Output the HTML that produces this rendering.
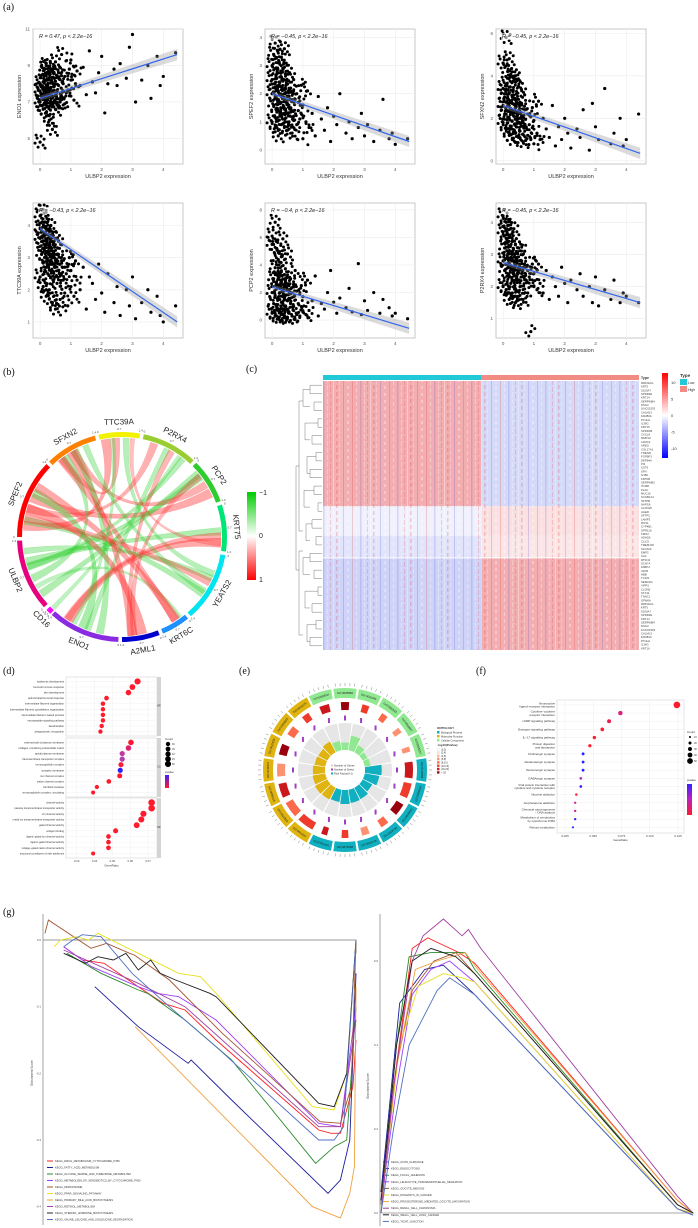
<!DOCTYPE html>
<html><head><meta charset="utf-8">
<style>
html,body{margin:0;padding:0;background:#fff;}
svg{display:block;font-family:"Liberation Sans",sans-serif;}
.pl{font-family:"Liberation Serif",serif;font-size:10px;fill:#111;}
</style></head>
<body>
<svg id="fig" width="698" height="1228" viewBox="0 0 698 1228" xmlns="http://www.w3.org/2000/svg">
<defs>
<pattern id="streak" width="37" height="7" patternUnits="userSpaceOnUse">
<rect x="0" y="0" width="1" height="7" fill="#fff" opacity="0.35"/>
<rect x="3" y="0" width="1.5" height="4" fill="#d22" opacity="0.2"/>
<rect x="6" y="2" width="1" height="5" fill="#fff" opacity="0.25"/>
<rect x="10" y="0" width="1" height="7" fill="#33c" opacity="0.18"/>
<rect x="14" y="1" width="2" height="3" fill="#fff" opacity="0.3"/>
<rect x="19" y="0" width="1" height="7" fill="#d22" opacity="0.2"/>
<rect x="23" y="3" width="1" height="4" fill="#fff" opacity="0.35"/>
<rect x="27" y="0" width="1.5" height="7" fill="#33c" opacity="0.15"/>
<rect x="31" y="0" width="1" height="5" fill="#fff" opacity="0.3"/>
<rect x="34" y="2" width="1" height="5" fill="#d22" opacity="0.18"/>
</pattern>
</defs>
<text class="pl" x="3" y="10">(a)</text>
<text class="pl" x="3" y="375">(b)</text>
<text class="pl" x="246" y="372">(c)</text>
<text class="pl" x="3" y="674">(d)</text>
<text class="pl" x="239" y="674">(e)</text>
<text class="pl" x="476" y="674">(f)</text>
<text class="pl" x="3" y="915">(g)</text>
<g id="gA"></g><g id="gB"></g><g id="gC"></g><g id="gD"></g><g id="gE"></g><g id="gF"></g><g id="gG"></g>
</svg>
<script>
// ================= DATA =================
const scGenes = ['ENO1','SPEF2','SFXN2','TTC39A','PCP2','P2RX4'];
const scR = ['R = 0.47, p < 2.2e\u221216','R = \u22120.45, p < 2.2e\u221216','R = \u22120.45, p < 2.2e\u221216','R = \u22120.43, p < 2.2e\u221216','R = \u22120.4, p < 2.2e\u221216','R = \u22120.45, p < 2.2e\u221216'];
const scYMin = [3.6, -0.5, -0.15, 0.5, -1.3, 0.4];
const scYMax = [11.0, 4.3, 6.2, 4.7, 8.5, 4.6];
const scYTicks = [[5,7,9,11],[0,1,2,3,4],[0,2,4,6],[1,2,3,4],[0,2,4,6,8],[1,2,3,4]];
const scXTicks = [0,1,2,3,4];
const scFitStart = [7.2, 2.0, 2.6, 3.9, 2.4, 2.75];
const scFitEnd = [9.6, 0.3, 0.35, 1.0, -0.6, 1.5];
const scX = [0,0,0,0,0.05,0.05,0.1,0.1,0.1,0.15,0.15,0.2,0.2,0.2,0.2,0.25,0.25,0.3,0.3,0.3,0.3,0.35,0.35,0.4,0.4,0.4,0.45,0.45,0.5,0.5,0.5,0.55,0.55,0.6,0.6,0.65,0.7,0.7,0.75,0.8,0.8,0.85,0.9,0.95,1.0,1.0,1.1,1.15,1.2,1.3,1.4,1.5,1.6,1.7,1.8,1.9,2.0,2.1,2.2,2.4,2.5,2.6,2.8,2.9,3.0,3.1,3.3,3.5,3.6,3.8,3.9,4.0,4.4];
const scY1 = [7.0,7.6,4.8,8.0,6.8,7.4,8.1,6.6,7.7,8.8,7.1,7.5,8.5,6.4,9.0,7.2,7.9,8.9,6.0,7.4,8.2,7.8,6.9,8.3,5.5,7.3,8.6,7.0,7.0,9.2,6.6,7.6,8.4,7.9,8.6,7.0,7.3,9.6,8.0,6.9,8.4,7.5,7.6,8.8,9.3,8.2,7.1,8.0,8.7,7.9,8.9,7.4,9.8,8.1,7.5,8.6,9.5,6.4,8.0,8.8,7.9,9.1,8.3,10.0,10.7,7.0,8.2,9.0,7.2,9.5,7.9,8.4,9.7];
const scY2 = [2.0,3.0,1.0,2.5,1.6,3.4,2.2,0.8,3.8,1.4,2.7,2.1,3.1,0.5,1.8,2.4,1.2,3.3,1.9,0.9,2.6,1.5,2.9,2.0,1.1,3.6,1.7,2.3,0.7,1.3,2.8,1.9,1.0,2.2,1.5,0.6,2.5,1.2,1.8,0.9,2.0,1.4,1.1,2.3,0.4,1.6,1.0,2.1,0.8,1.3,0.5,1.9,1.1,0.7,1.5,0.3,1.2,0.9,2.0,0.6,1.0,0.4,0.8,1.3,0.5,0.9,0.3,0.7,1.8,0.4,0.6,0.2,0.4];
const scY3 = [2.6,3.4,1.8,4.6,2.2,3.0,5.8,1.5,3.6,2.6,4.2,2.0,3.2,1.2,4.8,2.8,1.6,3.7,2.4,1.0,3.0,2.1,3.9,2.5,1.3,4.0,1.9,2.9,1.1,2.3,3.5,2.0,1.4,2.7,1.8,0.9,2.4,3.1,1.6,1.2,2.2,1.7,1.0,2.5,0.8,1.9,1.3,2.8,1.0,2.0,1.5,1.1,2.6,0.7,1.6,1.0,2.0,1.3,0.6,1.5,1.1,2.4,0.5,2.7,1.6,1.0,3.4,0.8,1.3,2.0,0.7,1.0,2.2];
const scY4 = [3.6,4.3,2.4,3.9,3.1,3.5,4.5,2.1,3.8,3.0,4.1,2.7,3.4,1.8,3.9,3.2,2.5,3.7,2.9,2.0,3.3,2.6,4.0,3.0,1.6,3.5,2.8,3.2,1.4,2.4,3.6,2.9,2.2,3.1,2.6,1.7,2.9,3.4,2.3,1.9,2.7,2.5,1.5,3.0,2.1,2.6,1.8,2.9,2.3,2.0,2.7,1.4,2.4,2.2,1.7,2.8,1.9,1.3,2.5,1.6,2.1,1.2,2.0,1.5,2.4,1.1,1.6,2.0,1.3,1.8,1.2,1.0,1.5];
const scY5 = [2.0,5.5,0.5,6.1,3.0,1.2,7.1,0.3,3.8,2.5,5.2,1.5,4.4,0.2,3.0,2.0,0.6,4.6,2.8,0.4,3.5,1.2,5.9,2.4,0.3,3.3,1.8,2.7,0.2,4.8,1.4,2.2,0.5,3.0,1.9,0.3,2.6,1.0,3.6,0.4,2.1,1.2,0.3,2.5,0.6,1.7,0.4,2.9,0.7,1.4,3.2,0.3,1.2,0.8,2.0,3.6,1.3,0.5,1.6,0.9,2.3,0.6,4.1,0.4,1.4,0.7,2.0,0.5,1.5,0.9,0.3,0.5,0.1];
const scY6 = [2.8,3.7,2.0,4.2,2.5,3.2,4.0,1.9,3.5,2.7,3.9,2.3,3.1,1.6,3.6,2.9,2.1,3.4,2.6,1.8,3.0,2.4,3.8,2.7,1.5,3.3,2.2,2.9,1.7,2.5,3.2,2.6,2.0,2.8,2.3,1.6,2.6,3.1,2.2,1.8,2.5,2.3,0.6,2.7,2.0,2.4,1.9,2.7,2.1,1.8,2.5,1.6,2.3,2.0,1.7,2.6,2.1,1.5,2.2,1.9,2.4,1.7,2.0,1.5,2.3,1.4,1.9,1.6,2.2,1.5,1.8,1.7,1.5];
const scYs = [scY1,scY2,scY3,scY4,scY5,scY6];

const chordNames = ['TTC39A','P2RX4','PCP2','KRT75','YEATS2','KRT6C','A2ML1','ENO1','CD16','ULBP2','SPEF2','SFXN2'];
const chordStart = [-13,12,45,72,100,141,159,182,223,228,270,316];
const chordEnd = [10,43,70,98,139,157,180,222,226,268,314,345];
const chordColors = ['#f2f200','#9acd32','#2ecc2e','#00e676','#00e5ee','#1e90ff','#0000cd','#8a2be2','#ff00ff','#e6007e','#ff0000','#ff8000'];
const linkFrom = [0,0,0,1,1,2,2,3,3,4,4,5,6,6,7,7,7,8,9,9,9,10,10,11,11,0,1,3,5,6];
const linkTo   = [10,11,4,10,7,10,9,9,7,9,10,9,10,11,11,10,3,1,1,2,11,5,4,2,4,7,6,0,11,2];
const linkCorr = [0.6,0.5,-0.4,0.5,-0.4,0.6,-0.5,-0.5,0.6,-0.4,-0.5,-0.3,0.7,0.6,-0.5,-0.6,0.5,-0.3,-0.4,-0.5,-0.5,0.6,0.5,0.5,-0.4,-0.3,0.4,0.3,0.5,0.4];

const hmGroupRows = [34, 8, 6, 25];
const hmLowMean = [2.6, -0.8, -1.6, -2.6];
const hmHighMean = [-2.2, 1.0, 0.8, 2.6];
const hmLegendTicks = [10,5,0,-5,-10];
const hmGenes = ['MIR31HG','KRT5','S100A7','SPRR2E','KRT14','SERPINB4','DSG3','LINC01503','CALML3','FAM83A','PTHLH','IL36G','KRT16','SPRR1B','CXCL8','MMP10','LAMC2','AREG','COL17A1','TRIM29','FGFBP1','DEFB4A','PI3','CST6','SFN','GJB2','KRT6B','SERPINB3','ITGB6','PLAU','MUC16','SCGB1A1','SFTPB','NAPSA','CLDN18','AGER','SFTPC','LAMP3','ROS1','CYP4B1','GPR116','FMO2','ADH1B','CLIC5','TMEM100','SLC6A4','EMP2','CA4','RTKN2','SCN7A','FABP4','CD36','HBB','TCF21','SEMA3G','VIPR1','CLDN5','STX11','TNNC1','GPM6A'];

const goTerms = [
['epidermis development','humoral immune response','skin development','antimicrobial humoral response','intermediate filament organization','intermediate filament cytoskeleton organization','intermediate filament\u2212based process','neuropeptide signaling pathway','keratinization','phagocytosis, recognition'],
['external side of plasma membrane','collagen\u2212containing extracellular matrix','apical plasma membrane','transmembrane transporter complex','immunoglobulin complex','synaptic membrane','ion channel complex','cation channel complex','cornified envelope','immunoglobulin complex, circulating'],
['channel activity','passive transmembrane transporter activity','ion channel activity','metal ion transmembrane transporter activity','gated channel activity','antigen binding','ligand\u2212gated ion channel activity','ligand\u2212gated channel activity','voltage\u2212gated cation channel activity','structural constituent of skin epidermis']];
const goRatio = [[0.0641,0.0612,0.0590,0.0467,0.0447,0.0447,0.0447,0.0447,0.0440,0.0433],
[0.0604,0.0590,0.0555,0.0555,0.0548,0.0544,0.0541,0.0480,0.0413,0.0392],
[0.0720,0.0720,0.0674,0.0662,0.0636,0.0518,0.0478,0.0478,0.0478,0.0392]];
const goColor = [['#ff1a2e','#ff1a2e','#ff1a2e','#ff1a2e','#ff1a2e','#ff1a2e','#ff1a2e','#ff1a2e','#ff1a2e','#ff1a2e'],
['#ff1a2e','#e0206e','#c03aa0','#b040b0','#ff1a3a','#2a20ff','#ff1a2e','#ff1a2e','#ff1a2e','#ff1a2e'],
['#ff1a2e','#ff1a2e','#ff1a2e','#ff1a2e','#ff1a2e','#ff1a2e','#ff1a2e','#ff1a2e','#ff1a2e','#ff1a2e']];
const goCount = [[50,46,43,34,32,32,32,32,31,30],[44,43,40,40,39,39,38,34,29,27],[55,55,50,49,47,38,34,34,34,27]];
const goXTicks = [0.03,0.04,0.05,0.06,0.07];

const circCat = ['CC','CC','CC','CC','CC','CC','BP','BP','BP','BP','BP','BP','BP','MF','MF','MF','MF','MF','MF','MF'];
const circIds = ['GO:0030054','GO:0005882','GO:0045095','GO:0062023','GO:0009897','GO:0016324','GO:0043588','GO:0008544','GO:0006959','GO:0019730','GO:0045109','GO:0070268','GO:0031424','GO:0015267','GO:0022803','GO:0005216','GO:0046873','GO:0022836','GO:0003823','GO:0015276'];
const circGenes = [36,30,26,24,21,19,60,55,45,30,28,25,22,62,58,52,48,40,35,28];
const circRich = [0.35,0.28,0.55,0.3,0.2,0.22,0.62,0.55,0.4,0.48,0.5,0.52,0.46,0.5,0.52,0.48,0.45,0.4,0.38,0.45];
const circPval = [6,7,5,4,3,3,6,5,7,4,3,5,6,5,4,6,3,7,4,5];

const keggTerms = ['Neuroactive ligand\u2212receptor interaction','Cytokine\u2212cytokine receptor interaction','cAMP signaling pathway','Estrogen signaling pathway','IL\u221217 signaling pathway','Protein digestion and absorption','Cholinergic synapse','Glutamatergic synapse','Serotonergic synapse','GABAergic synapse','Viral protein interaction with cytokine and cytokine receptor','Nicotine addiction','Amphetamine addiction','Chemical carcinogenesis \u2212 DNA adducts','Metabolism of xenobiotics by cytochrome P450','Retinol metabolism'];
const keggRatio = [0.124,0.074,0.064,0.058,0.051,0.047,0.041,0.041,0.041,0.039,0.039,0.035,0.034,0.034,0.034,0.032];
const keggColor = ['#ff1a2e','#d8207c','#e81a50','#ff1a2e','#ff1a2e','#ff1a2e','#2a20ff','#2a20ff','#2a20ff','#b030c0','#3020ff','#ff1a2e','#d820a0','#d820a0','#2a20ff','#3030ff'];
const keggCount = [60,36,30,27,24,22,18,18,18,16,16,14,13,13,13,11];
const keggXTicks = [0.025,0.050,0.075,0.100,0.125];

const gseaLNames = ['KEGG_DRUG_METABOLISM_CYTOCHROME_P450','KEGG_FATTY_ACID_METABOLISM','KEGG_GLYCINE_SERINE_AND_THREONINE_METABOLISM','KEGG_METABOLISM_OF_XENOBIOTICS_BY_CYTOCHROME_P450','KEGG_PEROXISOME','KEGG_PPAR_SIGNALING_PATHWAY','KEGG_PRIMARY_BILE_ACID_BIOSYNTHESIS','KEGG_RETINOL_METABOLISM','KEGG_STEROID_HORMONE_BIOSYNTHESIS','KEGG_VALINE_LEUCINE_AND_ISOLEUCINE_DEGRADATION'];
const gseaLColors = ['#ff2020','#1c1c9c','#2a8a2a','#a040ff','#a0522d','#e8e020','#f0a040','#a040a0','#202020','#5070c0'];
const gseaLX = [
[0.06,0.12,0.19,0.30,0.38,0.45,0.55,0.88,0.92,0.95,0.99,1],
[0.16,0.30,0.46,0.47,0.60,0.91,0.95,0.98,1],
[0.07,0.18,0.30,0.33,0.45,0.60,0.87,0.93,0.97,1],
[0.06,0.15,0.30,0.36,0.43,0.55,0.88,0.95,1],
[0,0.011,0.148,0.198,0.272,0.287,0.40,0.57,0.885,0.95,0.985,1],
[0.03,0.05,0.10,0.14,0.17,0.30,0.43,0.50,0.55,0.86,0.93,0.97,1],
[0.29,0.86,0.95,0.98,0.995,1],
[0.06,0.30,0.45,0.88,0.95,1],
[0.06,0.13,0.17,0.22,0.26,0.30,0.34,0.37,0.42,0.53,0.55,0.88,0.93,0.97,1],
[0.06,0.09,0.12,0.18,0.28,0.40,0.55,0.88,0.93,0.96,1]];
const gseaLY = [
[-0.01,-0.03,-0.035,-0.07,-0.095,-0.105,-0.15,-0.285,-0.29,-0.29,-0.22,-0.15],
[-0.07,-0.13,-0.185,-0.18,-0.24,-0.38,-0.36,-0.30,-0.05],
[-0.02,-0.05,-0.075,-0.08,-0.12,-0.18,-0.335,-0.31,-0.30,-0.10],
[-0.01,-0.04,-0.07,-0.08,-0.085,-0.12,-0.275,-0.28,-0.10],
[0.01,0.03,-0.0125,-0.005,-0.02,-0.0225,-0.06,-0.14,-0.2725,-0.275,-0.22,0],
[-0.01,0.0,0.005,0.0,0.01,-0.02,-0.05,-0.055,-0.08,-0.25,-0.255,-0.2,0],
[-0.13,-0.40,-0.417,-0.38,-0.34,-0.07],
[-0.015,-0.065,-0.10,-0.28,-0.28,-0.12],
[-0.02,-0.035,-0.025,-0.03,-0.02,-0.045,-0.03,-0.05,-0.06,-0.08,-0.085,-0.245,-0.25,-0.2,0],
[-0.01,0.0,0.008,0.005,-0.05,-0.10,-0.16,-0.30,-0.30,-0.28,0]];
const gseaLTicks = [0.0,-0.1,-0.2,-0.3,-0.4];
const gseaRNames = ['KEGG_AXON_GUIDANCE','KEGG_ENDOCYTOSIS','KEGG_FOCAL_ADHESION','KEGG_LEUKOCYTE_TRANSENDOTHELIAL_MIGRATION','KEGG_OOCYTE_MEIOSIS','KEGG_PATHWAYS_IN_CANCER','KEGG_PROGESTERONE_MEDIATED_OOCYTE_MATURATION','KEGG_RENAL_CELL_CARCINOMA','KEGG_SMALL_CELL_LUNG_CANCER','KEGG_TIGHT_JUNCTION'];
const gseaRColors = ['#ff2020','#1c1c9c','#2a8a2a','#a040ff','#a0522d','#e8e020','#f0a040','#a040a0','#202020','#5070c0'];
const gseaRX = [
[0,0.04,0.1,0.15,0.25,0.3,0.95,1],
[0,0.06,0.14,0.2,0.3,0.95,1],
[0,0.05,0.09,0.16,0.27,0.3,0.95,1],
[0,0.05,0.1,0.16,0.22,0.3,0.95,1],
[0,0.05,0.1,0.17,0.24,0.3,0.95,1],
[0,0.06,0.12,0.2,0.26,0.3,0.95,1],
[0,0.05,0.11,0.18,0.27,0.31,0.95,1],
[0,0.04,0.1,0.135,0.2,0.26,0.28,0.32,0.95,1],
[0,0.05,0.1,0.16,0.24,0.3,0.95,1],
[0,0.04,0.09,0.18,0.22,0.3,0.95,1]];
const gseaRY = [
[0.02,0.3,0.63,0.655,0.62,0.595,0.03,0.0],
[0.05,0.5,0.58,0.59,0.52,0.01,-0.005],
[0.02,0.4,0.61,0.62,0.62,0.58,0.02,0.0],
[0.02,0.3,0.52,0.58,0.6,0.55,0.01,0.0],
[0.03,0.35,0.53,0.6,0.62,0.57,0.02,0.0],
[0.02,0.4,0.54,0.57,0.56,0.55,0.01,0.0],
[0.02,0.35,0.58,0.6,0.62,0.58,0.03,0.0],
[0.0,0.3,0.6,0.66,0.7,0.66,0.675,0.63,0.04,0.0],
[0.03,0.4,0.6,0.63,0.61,0.57,0.02,0.0],
[0.0,0.2,0.4,0.53,0.56,0.52,0.01,-0.005]];
const gseaRTicks = [0.0,0.2,0.4,0.6];

// ================= HELPERS =================
const NS='http://www.w3.org/2000/svg';
function mk(parent, tag, attrs, text){
  const e=document.createElementNS(NS,tag);
  for(const k in attrs) e.setAttribute(k,attrs[k]);
  if(text!==undefined) e.textContent=text;
  parent.appendChild(e); return e;
}
function rad(d){return (d-90)*Math.PI/180;}

// ================= (a) SCATTER =================
(function(){
  const g=document.getElementById('gA');
  const lefts=[33,265,496,33,265,496], tops=[29,29,29,203,203,203], W=150, H=135;
  const xMin=-0.23, xMax=4.64;
  // visual density halo offsets (pixels) for the crowded low-ULBP2 region
  const halo=[[-3,-4],[3,3],[-2,5],[4,-3],[-5,1],[1,-6],[5,6],[-4,-7]];
  for(let p=0;p<6;p++){
    const L=lefts[p], T=tops[p];
    const sx=v=>L+(v-xMin)/(xMax-xMin)*W;
    const sy=v=>T+H-(v-scYMin[p])/(scYMax[p]-scYMin[p])*H;
    const pg=mk(g,'g',{});
    
    
    mk(pg,'rect',{x:L,y:T,width:W,height:H,fill:'#fff',stroke:'#bbb','stroke-width':0.8});
    scXTicks.forEach(t=>{
      const gl=mk(pg,'line',{x1:sx(t),x2:sx(t),y1:T,y2:T+H,stroke:'#ececec','stroke-width':0.6});
      
      const tl=mk(pg,'text',{x:sx(t),y:T+H+7,'font-size':4.5,'text-anchor':'middle',fill:'#555'},String(t));
      
    });
    scYTicks[p].forEach(t=>{
      const gl=mk(pg,'line',{x1:L,x2:L+W,y1:sy(t),y2:sy(t),stroke:'#ececec','stroke-width':0.6});
      
      const tl=mk(pg,'text',{x:L-3,y:sy(t)+1.5,'font-size':4.5,'text-anchor':'end',fill:'#555'},String(t));
      
    });
    const xt=mk(pg,'text',{x:L+W/2,y:T+H+14,'font-size':5.5,'text-anchor':'middle',fill:'#333'},'ULBP2 expression');
    
    const yt=mk(pg,'text',{x:0,y:0,'font-size':5.5,'text-anchor':'middle',fill:'#333',transform:`translate(${L-12},${T+H/2}) rotate(-90)`},scGenes[p]+' expression');
    
    const ys=scYs[p];
    scX.forEach((xv,i)=>{
      const c=mk(pg,'circle',{cx:sx(xv),cy:sy(ys[i]),r:1.6,fill:'#000'});
      
      if(xv<=1.2){
        const n=xv<0.7?8:4;
        for(let k=0;k<n;k++){
          const hx=Math.min(L+W-2,Math.max(L+2,sx(xv)+halo[(k+i)%8][0]));
          const hy=Math.min(T+H-2,Math.max(T+2,sy(ys[i])+halo[(k+i)%8][1]));
          const h=mk(pg,'circle',{cx:hx,cy:hy,r:1.5,fill:'#000'});
          
        }
      }
    });
    const a=scFitStart[p], b=scFitEnd[p], span=(scYMax[p]-scYMin[p])*0.03;
    const band=mk(pg,'polygon',{points:`${sx(0)},${sy(a+span*0.6)} ${sx(4.45)},${sy(b+span*1.4)} ${sx(4.45)},${sy(b-span*1.4)} ${sx(0)},${sy(a-span*0.6)}`,fill:'#999',opacity:0.35});
    
    const ln=mk(pg,'line',{x1:sx(0),y1:sy(a),x2:sx(4.45),y2:sy(b),stroke:'#3366ee','stroke-width':1.2});
    
    const rb=mk(pg,'rect',{x:L+5,y:T+4,width:62,height:7,fill:'#fff',opacity:0.6});
    
    const rt=mk(pg,'text',{x:L+6,y:T+9,'font-size':5.5,fill:'#222','font-style':'italic'},scR[p]);
    
  }
})();

// ================= (b) CHORD =================
(function(){
  const g=document.getElementById('gB');
  const cx=122, cy=537, R=100;
  const pt=(d,r)=>[cx+r*Math.cos(rad(d)), cy+r*Math.sin(rad(d))];
  linkFrom.forEach((f,i)=>{
    const t=linkTo[i], v=linkCorr[i];
    const k=(i*37)%100/100;
    const fa=chordStart[f]+(chordEnd[f]-chordStart[f])*(0.15+0.7*k);
    const ta=chordStart[t]+(chordEnd[t]-chordStart[t])*(0.15+0.7*((k*3)%1));
    const w=Math.abs(v)*9;
    const p1=pt(fa-w/2,R-1), p2=pt(fa+w/2,R-1), q1=pt(ta-w/2,R-1), q2=pt(ta+w/2,R-1);
    const col=v>0?'#ff3030':'#30d030';
    const op=0.2+Math.abs(v)*0.35;
    const path=mk(g,'path',{d:`M${p1} A${R-1},${R-1} 0 0 1 ${p2} Q${cx},${cy} ${q1} A${R-1},${R-1} 0 0 1 ${q2} Q${cx},${cy} ${p1}Z`,fill:col,'fill-opacity':op,stroke:col,'stroke-opacity':0.3,'stroke-width':0.4});
    
    
  });
  chordNames.forEach((n,i)=>{
    const s=chordStart[i], e=chordEnd[i];
    const a1=pt(s,R), a2=pt(e,R), b1=pt(s,R+5), b2=pt(e,R+5);
    const large=(e-s)>180?1:0;
    const arc=mk(g,'path',{d:`M${a1} A${R},${R} 0 ${large} 1 ${a2} L${b2} A${R+5},${R+5} 0 ${large} 0 ${b1}Z`,fill:chordColors[i]});
    
    
    const mid=(s+e)/2, m=((mid%360)+360)%360;
    const lp=pt(mid,R+15);
    const rot=(m>90&&m<270)?m-180:m;
    const lt=mk(g,'text',{x:lp[0],y:lp[1]+2.5,'font-size':8,'text-anchor':'middle',fill:'#222',transform:`rotate(${rot},${lp[0]},${lp[1]})`},n);
    
    
    [0,0.5,1].forEach(f=>{
      const tp=pt(s+(e-s)*f,R+8);
      const tk=mk(g,'text',{x:tp[0],y:tp[1]+1,'font-size':3,'text-anchor':'middle',fill:'#444'},f===0?'0':(f===0.5?'0.7':'1.4'));
      
    });
  });
  const lg=mk(g,'g',{});
  
  
  const lgd=mk(lg,'linearGradient',{id:'chordGrad',x1:0,y1:0,x2:0,y2:1});
  mk(lgd,'stop',{offset:'0','stop-color':'#00cc00'});
  mk(lgd,'stop',{offset:'0.5','stop-color':'#ffffff'});
  mk(lgd,'stop',{offset:'1','stop-color':'#ff0000'});
  mk(lg,'rect',{x:247,y:492,width:9,height:88,fill:'url(#chordGrad)'});
  [['\u22121',495],['0',538],['1',582]].forEach(([t,y])=>{
    const tl=mk(lg,'text',{x:259,y:y,'font-size':7,fill:'#222'},t);
    
  });
})();

// ================= (c) HEATMAP =================
(function(){
  const g=document.getElementById('gC');
  const X0=323, X1=639, XM=481, Y0=381, Y1=650;
  const nRows=hmGroupRows.reduce((a,b)=>a+b,0);
  const rh=(Y1-Y0)/nRows;
  const colr=v=>{const t=Math.min(1,Math.abs(v)/5);
    if(v>=0) return `rgb(${Math.round(255-25*t)},${Math.round(255-155*t)},${Math.round(255-150*t)})`;
    return `rgb(${Math.round(255-95*t)},${Math.round(255-85*t)},${Math.round(255-15*t)})`;};
  const bl=mk(g,'rect',{x:X0,y:375,width:XM-X0,height:5,fill:'#20c8d8'});
  
  const bh=mk(g,'rect',{x:XM,y:375,width:X1-XM,height:5,fill:'#f08c84'});
  
  let r=0;
  hmGroupRows.forEach((n,gi)=>{
    const y=Y0+r*rh, h=n*rh;
    const c1=mk(g,'rect',{x:X0,y:y,width:XM-X0,height:h,fill:colr(hmLowMean[gi])});
    
    const c2=mk(g,'rect',{x:XM,y:y,width:X1-XM,height:h,fill:colr(hmHighMean[gi])});
    
    r+=n;
  });
  const tex=mk(g,'rect',{x:X0,y:Y0,width:X1-X0,height:Y1-Y0,fill:'url(#streak)'});
  
  const sepY=Y0+(hmGroupRows[0]+hmGroupRows[1]+hmGroupRows[2])*rh;
  const sep=mk(g,'rect',{x:X0,y:sepY-0.6,width:X1-X0,height:1.2,fill:'#fff',opacity:0.8});
  
  const dg=mk(g,'g',{stroke:'#555','stroke-width':0.4,fill:'none'});
  
  const leaves=32, lh=(Y1-Y0)/leaves;
  for(let i=0;i<leaves;i+=2){
    const ya=Y0+i*lh+lh/2, yb=ya+lh, xl=310+((i*7)%10);
    mk(dg,'path',{d:`M322,${ya}H${xl}V${yb}H322`});
  }
  for(let i=0;i<leaves;i+=4){
    const ya=Y0+i*lh+lh, yb=ya+2*lh, xl=303+((i*3)%5);
    mk(dg,'path',{d:`M${310+((i*7)%10)},${ya}H${xl}V${yb}H${310}`});
  }
  mk(dg,'path',{d:`M303,${Y0+20}H299V${Y0+150}H303 M303,${Y0+170}H299V${Y1-15}H303 M299,${Y0+85}H296V${Y1-80}H299`});
  for(let i=0;i<nRows;i++){
    const tl=mk(g,'text',{x:641,y:Y0+i*rh+rh*0.8,'font-size':2.8,fill:'#444'},hmGenes[i%hmGenes.length]);
    
  }
  const tt=mk(g,'text',{x:641,y:379,'font-size':3.5,'font-weight':'bold',fill:'#333'},'Type');
  
  const gd=mk(g,'linearGradient',{id:'hmGrad',x1:0,y1:0,x2:0,y2:1});
  mk(gd,'stop',{offset:'0','stop-color':'#ff0000'});
  mk(gd,'stop',{offset:'0.5','stop-color':'#ffffff'});
  mk(gd,'stop',{offset:'1','stop-color':'#0000ff'});
  const cb=mk(g,'rect',{x:662,y:373,width:6,height:85,fill:'url(#hmGrad)'});
  
  hmLegendTicks.forEach((t,i)=>{
    const tl=mk(g,'text',{x:671,y:384+i*16.5,'font-size':4,fill:'#333'},String(t));
    
  });
  const ty=mk(g,'text',{x:680,y:377,'font-size':4.5,'font-weight':'bold',fill:'#333'},'Type');
  
  const lb=mk(g,'rect',{x:680,y:379,width:7,height:6,fill:'#20c8d8'});
  
  const lt=mk(g,'text',{x:688,y:384,'font-size':3.5,fill:'#333'},'Low');
  
  const hb=mk(g,'rect',{x:680,y:386,width:7,height:6,fill:'#f08c84'});
  
  const ht=mk(g,'text',{x:688,y:391,'font-size':3.5,fill:'#333'},'High');
  
})();

// ================= (d) GO DOT PLOT =================
(function(){
  const g=document.getElementById('gD');
  const L=66, R=157, facetTop=[677,738,798], facetH=[59,59,60];
  const sx=v=>L+(v-0.024)/(0.075-0.024)*(R-L);
  const strips=['BP','CC','MF'];
  for(let f=0;f<3;f++){
    const T=facetTop[f], H=facetH[f];
    const fr=mk(g,'rect',{x:L,y:T,width:R-L,height:H,fill:'#fff',stroke:'#ccc','stroke-width':0.5});
    
    const st=mk(g,'rect',{x:R,y:T,width:4,height:H,fill:'#d4d4d4'});
    
    const stt=mk(g,'text',{x:R+2,y:T+H/2,'font-size':2.5,'text-anchor':'middle',fill:'#333'},strips[f]);
    
    goXTicks.forEach(t=>{mk(g,'line',{x1:sx(t),x2:sx(t),y1:T,y2:T+H,stroke:'#eee','stroke-width':0.4});});
    const n=goTerms[f].length, step=H/(n+0.6);
    goTerms[f].forEach((term,i)=>{
      const y=T+step*(i+0.8);
      mk(g,'line',{x1:L,x2:R,y1:y,y2:y,stroke:'#eee','stroke-width':0.4});
      const tl=mk(g,'text',{x:L-2,y:y+1,'font-size':2.6,'text-anchor':'end',fill:'#333'},term);
      
      const c=mk(g,'circle',{cx:sx(goRatio[f][i]),cy:y,r:0.8+goCount[f][i]/22,fill:goColor[f][i]});
      
    });
  }
  goXTicks.forEach(t=>{
    const tl=mk(g,'text',{x:sx(t),y:862,'font-size':2.8,'text-anchor':'middle',fill:'#444'},t.toFixed(2));
    
  });
  const xt=mk(g,'text',{x:(L+R)/2,y:866.5,'font-size':3,'text-anchor':'middle',fill:'#333'},'GeneRatio');
  
  const ct=mk(g,'text',{x:165,y:740,'font-size':3,fill:'#333'},'Count');
  
  [30,35,40,45,50].forEach((v,i)=>{
    const c=mk(g,'circle',{cx:168,cy:744+i*5,r:0.8+v/22,fill:'#000'});
    
    const tl=mk(g,'text',{x:172,y:745+i*5,'font-size':2.4,fill:'#333'},String(v));
    
  });
  const pt=mk(g,'text',{x:165,y:773,'font-size':3,fill:'#333'},'pvalue');
  
  const gd=mk(g,'linearGradient',{id:'dGrad',x1:0,y1:0,x2:0,y2:1});
  mk(gd,'stop',{offset:'0','stop-color':'#3a20ff'});
  mk(gd,'stop',{offset:'1','stop-color':'#ff1a2e'});
  const cb=mk(g,'rect',{x:165,y:775,width:4,height:13,fill:'url(#dGrad)'});
  
})();

// ================= (e) GO CIRCLE =================
(function(){
  const g=document.getElementById('gE');
  const cx=345, cy=770;
  const catCol={CC:'#90e890',BP:'#10b0c0',MF:'#e0b410'};
  const pCol=['#fff5f0','#fee0d2','#fcbba1','#fc9272','#fb6a4a','#ef3b2c','#cb181d','#99000d'];
  const n=circIds.length, span=360/n, start=-27;
  const arcPath=(a1,a2,r1,r2)=>{
    const p=(d,r)=>[cx+r*Math.cos(rad(d)),cy+r*Math.sin(rad(d))];
    return `M${p(a1,r1)} A${r1},${r1} 0 0 1 ${p(a2,r1)} L${p(a2,r2)} A${r2},${r2} 0 0 0 ${p(a1,r2)}Z`;
  };
  circIds.forEach((id,i)=>{
    const a1=start+i*span+0.8, a2=start+(i+1)*span-0.8, mid=(a1+a2)/2;
    const ring=mk(g,'path',{d:arcPath(a1,a2,82,72),fill:catCol[circCat[i]]});
    
    const lp=[cx+77*Math.cos(rad(mid)),cy+77*Math.sin(rad(mid))];
    const m=((mid%360)+360)%360, rot=(m>90&&m<270)?m-180:m;
    const tl=mk(g,'text',{x:lp[0],y:lp[1]+1,'font-size':2.8,'text-anchor':'middle',fill:'#222',transform:`rotate(${rot},${lp[0]},${lp[1]})`},id);
    
    for(let k=0;k<5;k++){
      const d=a1+(a2-a1)*(k+0.5)/5;
      mk(g,'line',{x1:cx+84*Math.cos(rad(d)),y1:cy+84*Math.sin(rad(d)),x2:cx+87*Math.cos(rad(d)),y2:cy+87*Math.sin(rad(d)),stroke:'#666','stroke-width':0.4});
    }
    const gl=circGenes[i]/70*(a2-a1);
    const gb=mk(g,'path',{d:arcPath(mid-gl/2,mid+gl/2,68,60),fill:pCol[circPval[i]]});
    
    const sel=mk(g,'rect',{x:cx+52*Math.cos(rad(mid))-1,y:cy+52*Math.sin(rad(mid))-2.5,width:2,height:5,fill:'#a040c0'});
    
    const bg=mk(g,'path',{d:arcPath(a1,a2,47,20),fill:'#e6e6e6'});
    
    const rb=mk(g,'path',{d:arcPath(a1,a2,20+circRich[i]*27,20),fill:catCol[circCat[i]]});
    
  });
  mk(g,'circle',{cx:cx,cy:cy,r:20,fill:'#fff'});
  [['Number of Genes','#f4c8c8',-4],['Number of Select','#a040c0',0],['Rich Factor(0-1)','#10b0c0',4]].forEach(([t,c,dy])=>{
    const s=mk(g,'rect',{x:cx-14,y:cy+dy-1.5,width:2,height:2,fill:c});
    
    const tl=mk(g,'text',{x:cx-11,y:cy+dy+0.5,'font-size':2.6,fill:'#333'},t);
    
  });
  const ot=mk(g,'text',{x:437,y:729,'font-size':3,'font-weight':'bold',fill:'#333'},'ONTOLOGY');
  
  [['Biological Process','#10b0c0'],['Molecular Function','#e0b410'],['Cellular Component','#90e890']].forEach(([t,c],i)=>{
    const s=mk(g,'rect',{x:437,y:731+i*4,width:2.5,height:2.5,fill:c});
    
    const tl=mk(g,'text',{x:441,y:733.3+i*4,'font-size':2.6,fill:'#333'},t);
    
  });
  const pt=mk(g,'text',{x:437,y:746,'font-size':3,'font-weight':'bold',fill:'#333'},'-log10(Pvalue)');
  
  ['(0,2]','(2,4]','(4,6]','(6,8]','(8,10]','(10,15]','(15,20]','> 20'].forEach((t,i)=>{
    const s=mk(g,'rect',{x:437,y:748+i*3.3,width:2.5,height:2.5,fill:pCol[i],stroke:'#ddd','stroke-width':0.2});
    
    const tl=mk(g,'text',{x:441,y:750.3+i*3.3,'font-size':2.5,fill:'#333'},t);
    
  });
})();

// ================= (f) KEGG DOT PLOT =================
(function(){
  const g=document.getElementById('gF');
  const L=557, R=684, T=700, B=833;
  const sx=v=>565+(v-0.025)/(0.100)*(678-565);
  const fr=mk(g,'rect',{x:L,y:T,width:R-L,height:B-T,fill:'#fff',stroke:'#ccc','stroke-width':0.5});
  
  keggXTicks.forEach(t=>{
    mk(g,'line',{x1:sx(t),x2:sx(t),y1:T,y2:B,stroke:'#eee','stroke-width':0.5});
    const tl=mk(g,'text',{x:sx(t),y:B+4,'font-size':3,'text-anchor':'middle',fill:'#444'},t.toFixed(3));
    
  });
  const step=(B-T)/16.3;
  keggTerms.forEach((term,i)=>{
    const y=T+step*(i+0.6);
    mk(g,'line',{x1:L,x2:R,y1:y,y2:y,stroke:'#eee','stroke-width':0.5});
    const words=term.length>30?[term.slice(0,term.lastIndexOf(' ',Math.ceil(term.length/2)+4)),term.slice(term.lastIndexOf(' ',Math.ceil(term.length/2)+4)+1)]:[term];
    words.forEach((w,k)=>{
      const tl=mk(g,'text',{x:L-2,y:y+1-(words.length-1)*1.6+k*3.3,'font-size':3,'text-anchor':'end',fill:'#333'},w);
      
    });
    const c=mk(g,'circle',{cx:sx(keggRatio[i]),cy:y,r:0.6+keggCount[i]/22,fill:keggColor[i]});
    
  });
  const xt=mk(g,'text',{x:(L+R)/2,y:B+8,'font-size':3,'text-anchor':'middle',fill:'#333'},'GeneRatio');
  
  const ct=mk(g,'text',{x:687,y:733,'font-size':3,fill:'#333'},'Count');
  
  [10,20,30,40,50].forEach((v,i)=>{
    const c=mk(g,'circle',{cx:690,cy:737+i*6,r:0.6+v/22,fill:'#000'});
    
    const tl=mk(g,'text',{x:694,y:738+i*6,'font-size':2.5,fill:'#333'},String(v));
    
  });
  const pt=mk(g,'text',{x:687,y:781,'font-size':3,fill:'#333'},'pvalue');
  
  const gd=mk(g,'linearGradient',{id:'fGrad',x1:0,y1:0,x2:0,y2:1});
  mk(gd,'stop',{offset:'0','stop-color':'#3a20ff'});
  mk(gd,'stop',{offset:'0.5','stop-color':'#c020c0'});
  mk(gd,'stop',{offset:'1','stop-color':'#ff1a2e'});
  const cb=mk(g,'rect',{x:687,y:784,width:5,height:31,fill:'url(#fGrad)'});
  
})();

// ================= (g) GSEA =================
(function(){
  const g=document.getElementById('gG');
  const lx=v=>45+v*(356-45), ly=v=>940-v*666.7;
  const lAx=mk(g,'line',{x1:43,y1:914,x2:43,y2:1225,stroke:'#666','stroke-width':0.6});
  
  const zl=mk(g,'polyline',{points:`43,${ly(0)} 356,${ly(0)} 356,${ly(-0.02)}`,fill:'none',stroke:'#777','stroke-width':0.8});
  
  gseaLTicks.forEach(t=>{
    const tl=mk(g,'text',{x:41,y:ly(t)+1,'font-size':3,'text-anchor':'end',fill:'#555'},t.toFixed(1));
    
  });
  const lyt=mk(g,'text',{x:0,y:0,'font-size':3.2,'text-anchor':'middle',fill:'#444',transform:'translate(33,1073) rotate(-90)'},'Enrichment Score');
  
  gseaLX.forEach((xs,i)=>{
    const pl=mk(g,'polyline',{points:xs.map((x,k)=>`${lx(x).toFixed(1)},${ly(gseaLY[i][k]).toFixed(1)}`).join(' '),fill:'none',stroke:gseaLColors[i],'stroke-width':0.9});
    
    const ky=1161+i*6.5;
    const lk=mk(g,'line',{x1:47,x2:53,y1:ky,y2:ky,stroke:gseaLColors[i],'stroke-width':1});
    
    const lt=mk(g,'text',{x:55,y:ky+1,'font-size':2.7,fill:'#333'},gseaLNames[i]);
    
  });
  const rx=v=>381+v*(693-381), ry=v=>1213-v*420;
  const rAx=mk(g,'line',{x1:380,y1:914,x2:380,y2:1226,stroke:'#666','stroke-width':0.6});
  
  const rz=mk(g,'line',{x1:380,y1:ry(0),x2:694,y2:ry(0),stroke:'#bbb','stroke-width':1.2});
  
  gseaRTicks.forEach(t=>{
    const tl=mk(g,'text',{x:378,y:ry(t)+1,'font-size':3,'text-anchor':'end',fill:'#555'},t.toFixed(1));
    
  });
  const ryt=mk(g,'text',{x:0,y:0,'font-size':3.2,'text-anchor':'middle',fill:'#444',transform:'translate(369,1086) rotate(-90)'},'Enrichment Score');
  
  gseaRX.forEach((xs,i)=>{
    const pl=mk(g,'polyline',{points:xs.map((x,k)=>`${rx(x).toFixed(1)},${ry(gseaRY[i][k]).toFixed(1)}`).join(' '),fill:'none',stroke:gseaRColors[i],'stroke-width':0.9});
    
    const ky=1162+i*6.6;
    const lk=mk(g,'line',{x1:383,x2:389,y1:ky,y2:ky,stroke:gseaRColors[i],'stroke-width':1});
    
    const lt=mk(g,'text',{x:391,y:ky+1,'font-size':2.7,fill:'#333'},gseaRNames[i]);
    
  });
})();
</script>
</body></html>
